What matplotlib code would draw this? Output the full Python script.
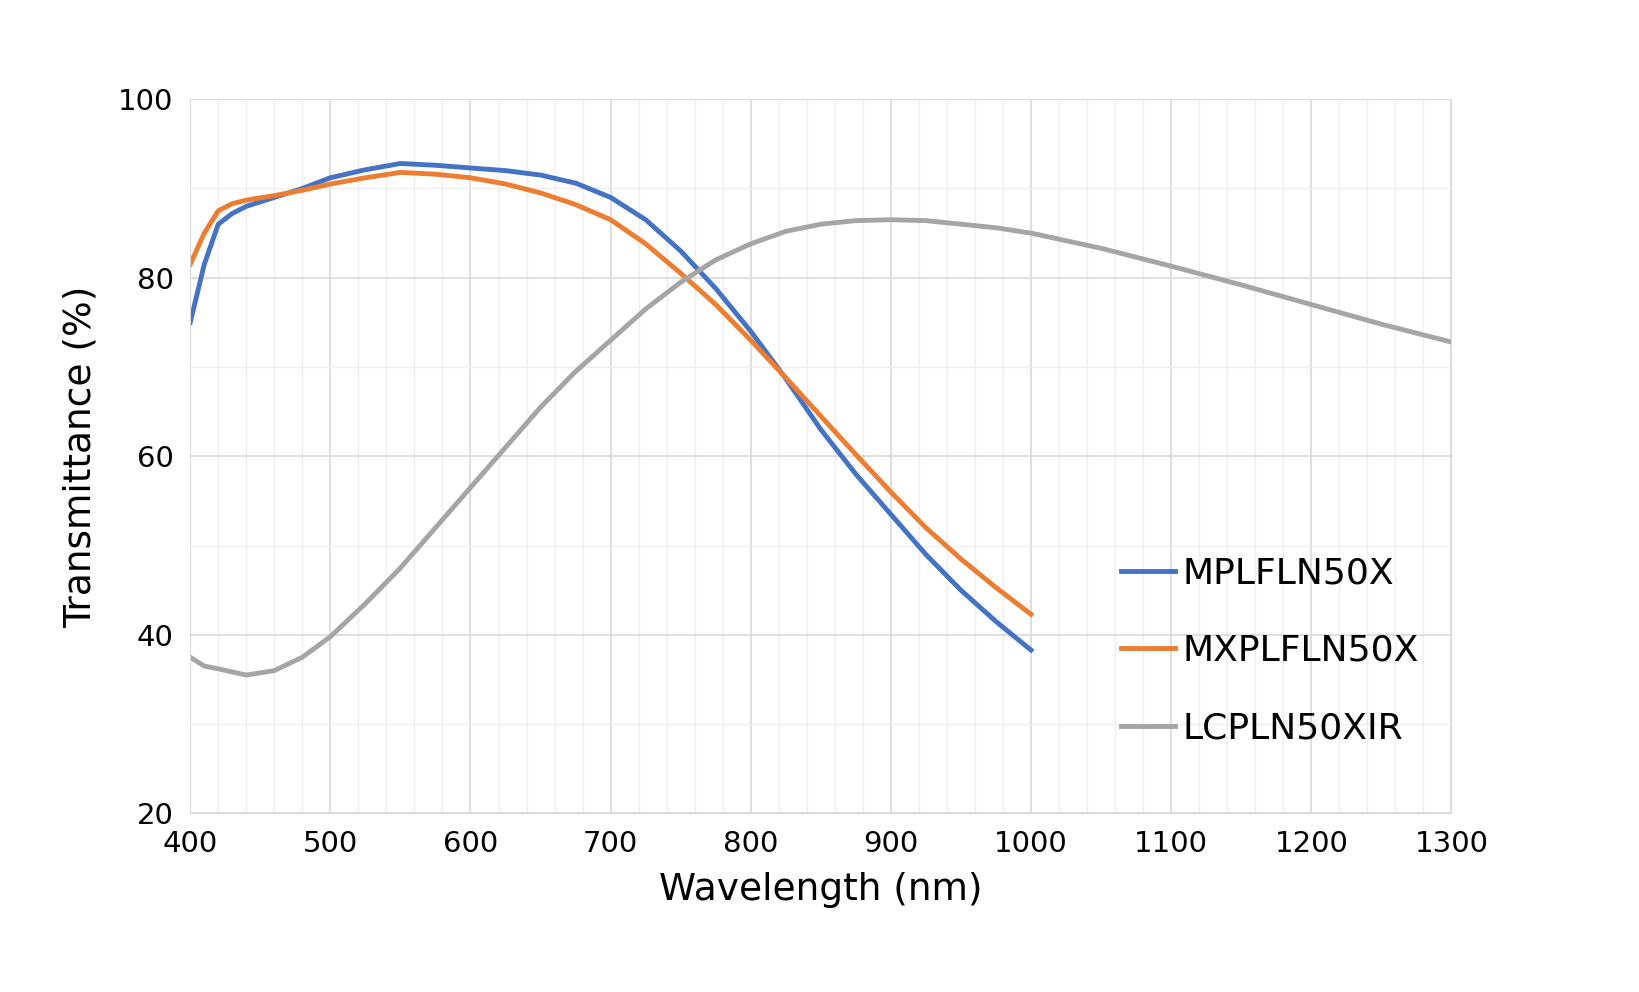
import matplotlib.pyplot as plt
from matplotlib.ticker import MultipleLocator

wl_a = [400, 410, 420, 430, 440, 460, 480, 500, 525, 550, 575, 600, 625, 650, 675,
        700, 725, 750, 775, 800, 825, 850, 875, 900, 925, 950, 975, 1000]
mplfln = [75, 81.5, 86, 87.2, 88, 89, 90, 91.2, 92.1, 92.8, 92.6, 92.3, 92, 91.5, 90.6,
          89, 86.5, 83, 78.8, 74, 68.7, 63, 58, 53.5, 49, 45, 41.5, 38.3]
mxplfln = [81.5, 85, 87.5, 88.3, 88.7, 89.2, 89.8, 90.5, 91.2, 91.8, 91.6, 91.2, 90.5,
           89.5, 88.2, 86.5, 83.8, 80.5, 77, 73, 68.8, 64.5, 60.2, 56, 52, 48.5, 45.3, 42.3]

wl_b = [400, 410, 420, 440, 460, 480, 500, 525, 550, 575, 600, 625, 650, 675, 700, 725,
        750, 775, 800, 825, 850, 875, 900, 925, 950, 975, 1000, 1050, 1100, 1150, 1200,
        1250, 1300]
lcpln = [37.5, 36.5, 36.2, 35.5, 36, 37.5, 39.8, 43.5, 47.5, 52, 56.5, 61, 65.5, 69.5,
         73, 76.5, 79.5, 82, 83.8, 85.2, 86, 86.4, 86.5, 86.4, 86, 85.6, 85, 83.3, 81.3,
         79.2, 77, 74.8, 72.8]

fig = plt.figure(figsize=(16.4, 9.92), dpi=100)
ax = fig.add_axes([0.116, 0.180, 0.769, 0.720])

ax.plot(wl_a, mplfln, color="#4472C4", lw=3.5, label="MPLFLN50X")
ax.plot(wl_a, mxplfln, color="#ED7D31", lw=3.5, label="MXPLFLN50X")
ax.plot(wl_b, lcpln, color="#A5A5A5", lw=3.5, label="LCPLN50XIR")

ax.set_xlim(400, 1300)
ax.set_ylim(20, 100)
ax.xaxis.set_major_locator(MultipleLocator(100))
ax.xaxis.set_minor_locator(MultipleLocator(20))
ax.yaxis.set_major_locator(MultipleLocator(20))
ax.yaxis.set_minor_locator(MultipleLocator(10))
ax.grid(which="major", color="#D9D9D9", lw=1.2)
ax.grid(which="minor", color="#EEEEEE", lw=1.0)
ax.set_axisbelow(True)
for s in ax.spines.values():
    s.set_color("#D9D9D9")
ax.tick_params(which="both", length=0, labelsize=21, pad=12)

ax.set_xlabel("Wavelength (nm)", fontsize=27, labelpad=10)
ax.set_ylabel("Transmittance (%)", fontsize=27, labelpad=14)

ax.legend(loc="lower right", bbox_to_anchor=(1.0, 0.05), frameon=False, fontsize=26,
          handlelength=1.5, handletextpad=0.2, labelspacing=1.2)

fig.savefig("out.png")
